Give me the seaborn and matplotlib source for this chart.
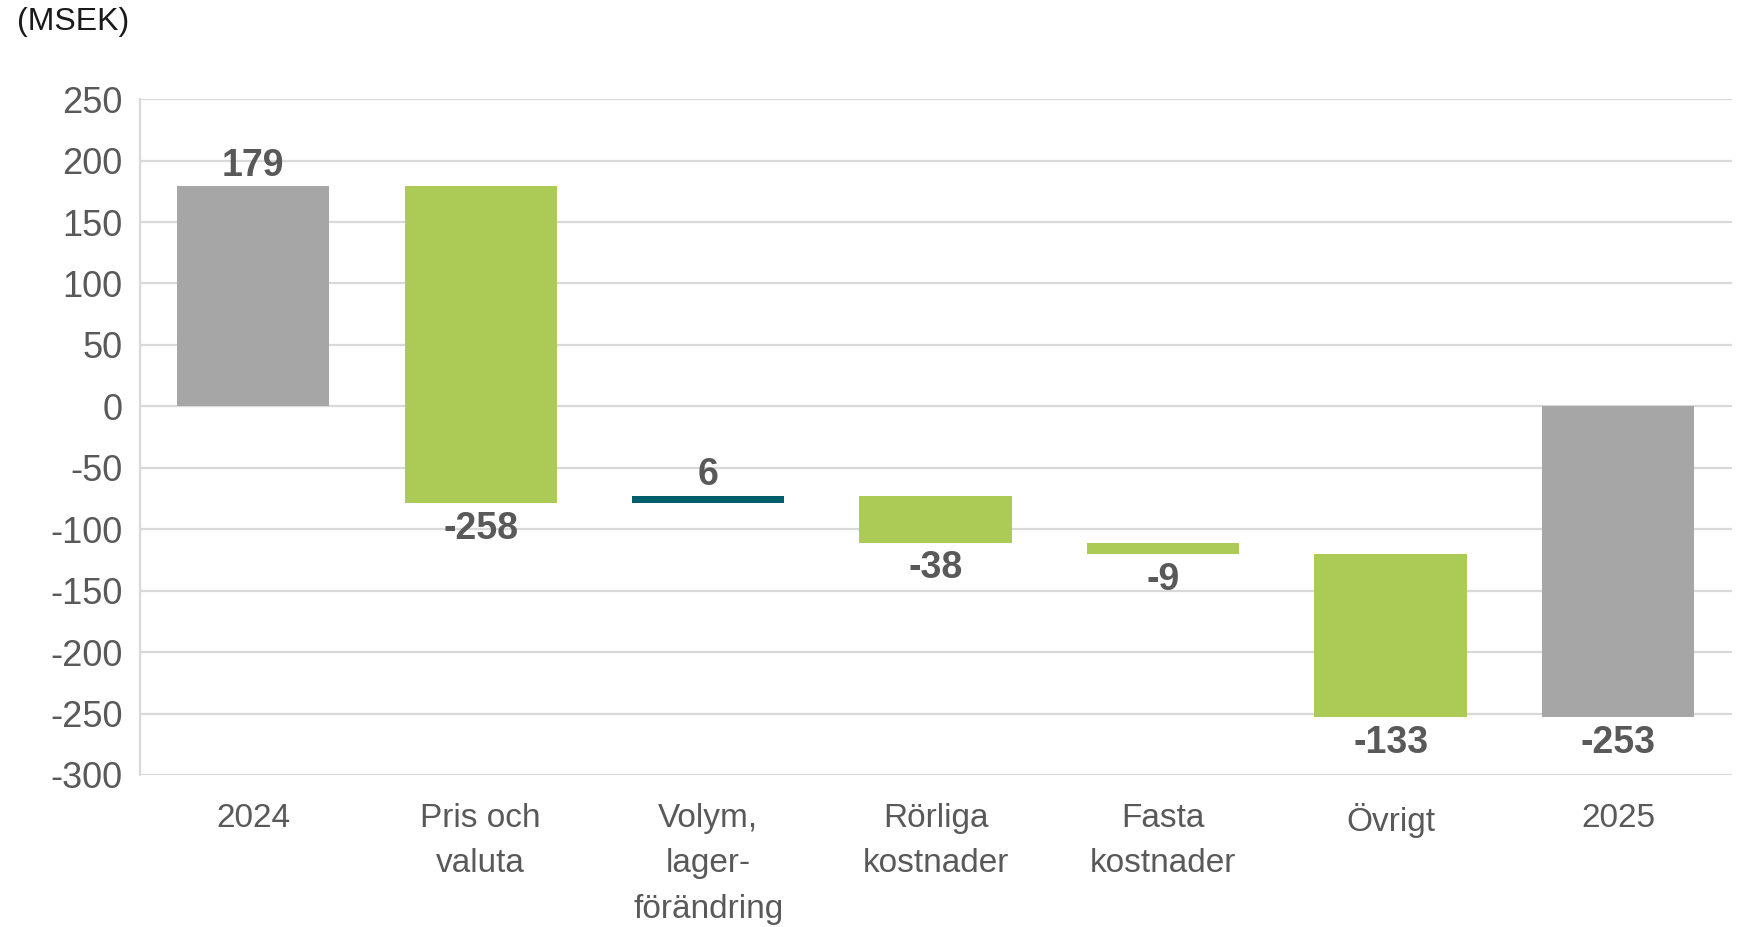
import matplotlib
matplotlib.use("Agg")
import matplotlib.pyplot as plt
import seaborn as sns
import numpy as np
import pandas as pd

# ---- data ----
categories = ["2024", "Pris och\nvaluta", "Volym,\nlager-\nförändring",
              "Rörliga\nkostnader", "Fasta\nkostnader", "Övrigt", "2025"]
changes = [179, -258, 6, -38, -9, -133, -253]
is_total = [True, False, False, False, False, False, True]
bar_colors = ["#A6A6A6", "#ACCA56", "#005F6B", "#ACCA56", "#ACCA56", "#ACCA56", "#A6A6A6"]
y_ticks = [250, 200, 150, 100, 50, 0, -50, -100, -150, -200, -250, -300]
unit_label = "(MSEK)"

# waterfall geometry derived from data
bottoms, heights = [], []
running = 0
for v, tot in zip(changes, is_total):
    if tot:
        bottoms.append(0)
        heights.append(v)
        running = v
    else:
        bottoms.append(running)
        heights.append(v)
        running += v

df = pd.DataFrame({"cat": categories, "height": heights})

sns.set_theme(style="white")
plt.rcParams["font.family"] = ["Liberation Sans", "DejaVu Sans"]

fig = plt.figure(figsize=(17.44, 9.27), dpi=100)
ax = fig.add_axes([0.080, 0.164, 0.913, 0.729])

sns.barplot(data=df, x="cat", y="height", hue="cat", palette=bar_colors,
            legend=False, width=0.67, saturation=1, ax=ax, zorder=3)

# shift each bar to its waterfall base
for patch, b, h in zip(ax.patches, bottoms, heights):
    patch.set_y(b)
    patch.set_height(h)
    patch.set_edgecolor("none")

text_col = "#595959"
for i, (b, h) in enumerate(zip(bottoms, heights)):
    top = b + h
    val = changes[i]
    if val >= 0:
        ax.annotate(f"{val}", (i, max(b, top)), xytext=(0, 15), textcoords="offset points",
                    ha="center", va="center", fontsize=27, fontweight="bold", color=text_col)
    else:
        ax.annotate(f"{val}", (i, min(b, top)), xytext=(0, -18.5), textcoords="offset points",
                    ha="center", va="center", fontsize=27, fontweight="bold", color=text_col)

ax.set_ylim(-300, 250)
ax.set_xlim(-0.5, len(categories) - 0.5)
ax.set_yticks(y_ticks)
ax.set_yticklabels([str(t) for t in y_ticks])
ax.yaxis.grid(True, color="#D9D9D9", linewidth=1.6, zorder=0)
ax.set_axisbelow(True)
ax.set_xlabel("")
ax.set_ylabel("")

for s in ["top", "right", "bottom"]:
    ax.spines[s].set_visible(False)
ax.spines["left"].set_color("#D9D9D9")
ax.spines["left"].set_linewidth(1.6)

ax.tick_params(axis="y", length=0, pad=12, labelsize=26, labelcolor=text_col)
ax.tick_params(axis="x", length=0, pad=20, labelsize=24, labelcolor=text_col)
for lab in ax.get_xticklabels():
    lab.set_linespacing(1.6)

fig.text(0.010, 0.976, unit_label, ha="left", va="center", fontsize=23, color="#1a1a1a")

fig.savefig("out.png", dpi=100, facecolor="white")
